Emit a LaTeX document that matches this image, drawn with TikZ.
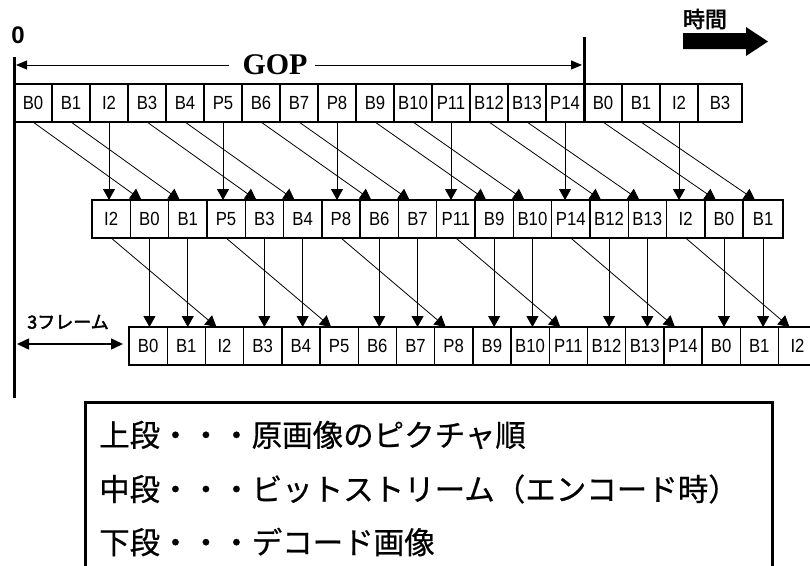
\documentclass[tikz,border=0pt]{standalone}
\usepackage{fontspec}
\setmainfont{Liberation Sans}
\newfontfamily\cellfont[FakeStretch=0.88]{Liberation Sans}
\newfontfamily\serifb{Liberation Serif}
\newfontfamily\cjk[FakeBold=0.6]{Noto Sans CJK JP}
\newfontfamily\cjkb[FakeBold=2.5]{Noto Sans CJK JP}
\usetikzlibrary{arrows.meta}
\begin{document}
\begin{tikzpicture}[x=1pt,y=-1pt,
  cell/.style={draw,line width=1.4pt,minimum height=38pt,inner sep=0pt,outer sep=0pt,
    font=\cellfont\fontsize{19}{19}\selectfont},
  link/.style={line width=0.8pt,-{Triangle[length=11pt,width=12pt]}},
  heavy/.style={line width=3pt},
  gopa/.style={line width=1pt,-{Triangle[length=11pt,width=9pt]}},
  legend/.style={anchor=west,inner sep=0pt,font=\cjk\fontsize{30.5}{30.5}\selectfont}]
\useasboundingbox (0,0) rectangle (810,565);
% top row
\foreach \l [count=\i from 0] in {B0,B1,I2,B3,B4,P5,B6,B7,P8,B9,B10,P11,B12,B13,P14,B0,B1,I2}
  \node[cell,minimum width=38pt] (t\i) at ({14+19+38*\i},103) {\l};
\node[cell,minimum width=44pt] (t18) at (720,103) {B3};
% middle row
\foreach \l [count=\i from 0] in {I2,B0,B1,P5,B3,B4,P8,B6,B7,P11,B9,B10,P14,B12,B13,I2,B0}
  \node[cell,minimum width=38.3pt] (m\i) at ({92+19.15+38.3*\i},219) {\l};
\node[cell,minimum width=40pt] (m17) at (763.1,219) {B1};
% bottom row
\foreach \l [count=\i from 0] in {B0,B1,I2,B3,B4,P5,B6,B7,P8,B9,B10,P11,B12,B13,P14,B0,B1,I2}
  \node[cell,minimum width=38.2pt] (b\i) at ({129+19.1+38.2*\i},346) {\l};
% top -> middle
\foreach \k/\j in {2/0,5/3,8/6,11/9,14/12,17/15}
  \draw[link] (t\k.south) -- (t\k.south |- m\j.north);
\foreach \k/\j in {0/1,1/2,3/4,4/5,6/7,7/8,9/10,10/11,12/13,13/14,15/16,16/17}
  \draw[link] (t\k.south) -- ([xshift=-8pt]m\j.north);
% middle -> bottom
\foreach \j/\i in {1/0,2/1,4/3,5/4,7/6,8/7,10/9,11/10,13/12,14/13,16/15,17/16}
  \draw[link] (m\j.south) -- (m\j.south |- b\i.north);
\foreach \j/\i in {0/2,3/5,6/8,9/11,12/14,15/17}
  \draw[link] (m\j.south) -- ([xshift=-8pt]b\i.north);
% time axis lines
\coordinate (L0) at (14,57);
\coordinate (L1) at (14,398);
\draw[heavy] (L0) -- (L1);
\coordinate (G0) at (584,37);
\draw[heavy] (G0) -- (t14.south east);
\node[font=\bfseries\fontsize{24}{24}\selectfont,inner sep=0pt] (zero) at (18,35) {0};
% GOP
\node[font=\serifb\bfseries\fontsize{30}{30}\selectfont,inner sep=0pt] (gop) at (275,65) {GOP};
\coordinate (gl) at (16,65);
\coordinate (gr) at (582,65);
\draw[gopa] ([xshift=-13pt]gop.west) -- (gl);
\draw[gopa] ([xshift=7pt]gop.east) -- (gr);
% time arrow
\node[font=\cjkb\fontsize{22}{22}\selectfont,inner sep=0pt] (jikan) at (705,19) {時間};
\fill (683,33) -- (746,33) -- (746,27) -- (768,41.5) -- (746,56) -- (746,49) -- (683,49) -- cycle;
% 3 frames
\node[font=\cjkb\fontsize{18}{18}\selectfont,inner sep=0pt] (fr) at (68,322) {3フレーム};
\coordinate (d1) at (17,344);
\draw[line width=1.5pt,{Triangle[length=12pt,width=11pt]}-{Triangle[length=12pt,width=11pt]}]
  (d1) -- ([xshift=-6pt]b0.west |- d1);
% legend
\draw[heavy] (85,402) rectangle (772,590);
\node[legend] (lg1) at (99,435) {上段・・・原画像のピクチャ順};
\node[legend] (lg2) at (99,489) {中段・・・ビットストリーム（エンコード時）};
\node[legend] (lg3) at (99,542) {下段・・・デコード画像};
\end{tikzpicture}
\end{document}
